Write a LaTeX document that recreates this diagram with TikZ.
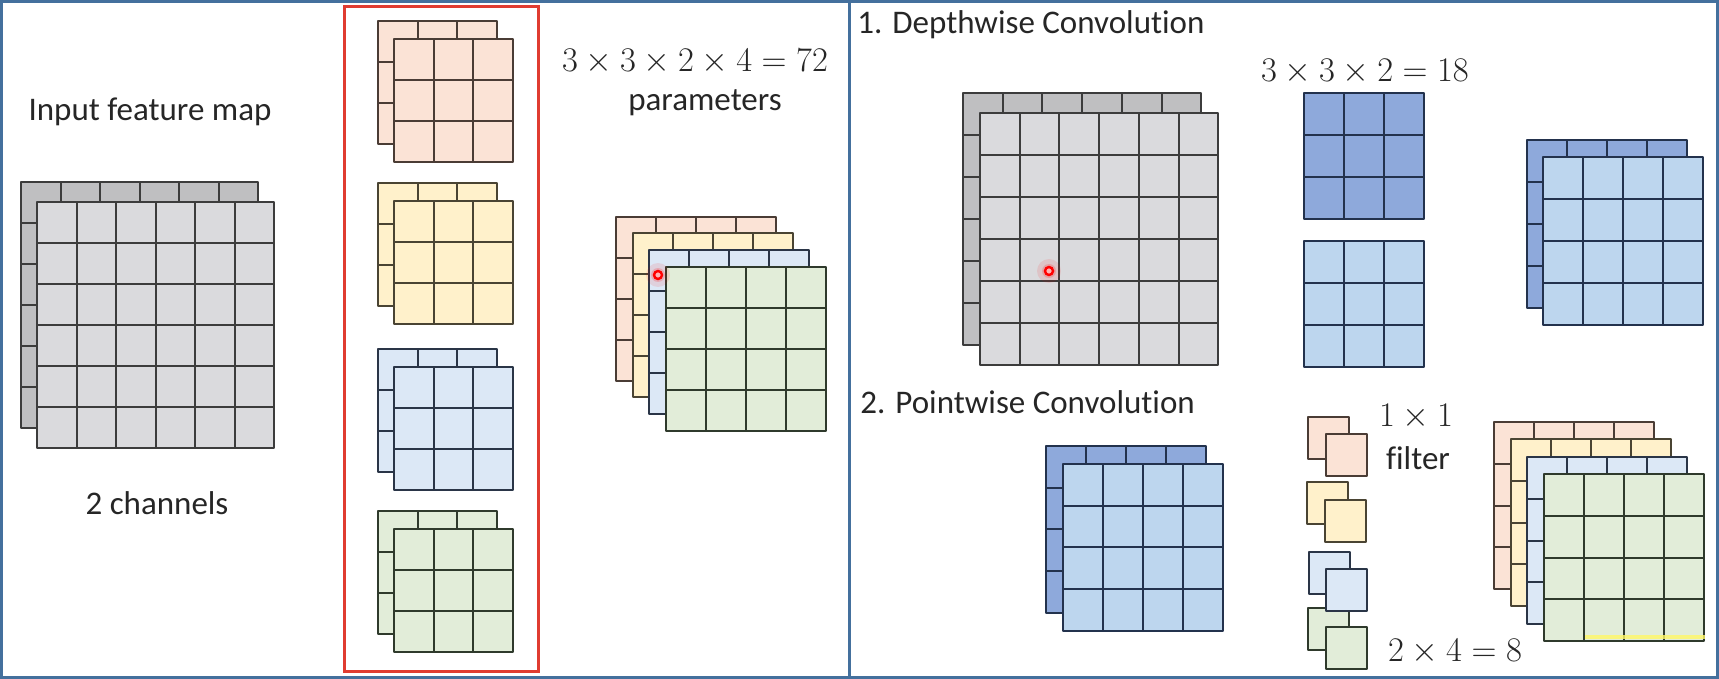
\documentclass[tikz,border=0pt]{standalone}
\usepackage[no-math]{fontspec}
\setmainfont{Carlito}[Ligatures=NoCommon]
\definecolor{cframe}{HTML}{44709D}
\definecolor{cred}{HTML}{E03C31}
\definecolor{ctext}{HTML}{262626}
\definecolor{cgray}{HTML}{DADADD}
\definecolor{cgraydark}{HTML}{BFBFC1}
\definecolor{cgrayline}{HTML}{3C3C3C}
\definecolor{cpink}{HTML}{FBE3D6}
\definecolor{cpinkline}{HTML}{4A3C35}
\definecolor{cyellow}{HTML}{FFF1CB}
\definecolor{cyellowline}{HTML}{4A4433}
\definecolor{cblue}{HTML}{DCE8F6}
\definecolor{cblueline}{HTML}{2A3547}
\definecolor{cgreen}{HTML}{E2EDD9}
\definecolor{cgreenline}{HTML}{2F3A2C}
\definecolor{clblue}{HTML}{BDD6EE}
\definecolor{cdblue}{HTML}{8EA9DB}
\definecolor{cnavy}{HTML}{23324D}
\tikzset{
	every node/.style={font=\fontsize{16.5}{20}\selectfont, text=ctext, inner sep=0pt},
	map/.style={line width=1pt, line join=round},
	grayfront/.style={map, fill=cgray, draw=cgrayline},
	grayrear/.style={map, fill=cgraydark, draw=cgrayline},
	pinkmap/.style={map, fill=cpink, draw=cpinkline},
	yellowmap/.style={map, fill=cyellow, draw=cyellowline},
	bluemap/.style={map, fill=cblue, draw=cblueline},
	greenmap/.style={map, fill=cgreen, draw=cgreenline},
	lightbluemap/.style={map, fill=clblue, draw=cnavy},
	darkbluemap/.style={map, fill=cdblue, draw=cnavy},
	redbox/.style={draw=cred, line width=1.5pt},
	frame/.style={draw=cframe, line width=1.5pt}
}
% [style]{x}{y}{columns}{rows}{cell width}{cell height}
\newcommand{\fmap}[7][]{%
	\begin{scope}[shift={(#2,#3)}]
		\filldraw[#1] (0,0) rectangle ({#4*#6},{#5*#7});
		\foreach \i in {1,...,#4}
			\draw[#1] ({\i*#6},0) -- ({\i*#6},{#5*#7});
		\foreach \j in {1,...,#5}
			\draw[#1] (0,{\j*#7}) -- ({#4*#6},{\j*#7});
	\end{scope}}
\newcommand{\hotspot}[2]{%
	\fill[red, opacity=0.10] (#1,#2) circle (12);
	\fill[red, opacity=0.18] (#1,#2) circle (7);
	\draw[red, line width=1.2pt, fill=red!30] (#1,#2) circle (4);}

\begin{document}
\begin{tikzpicture}[x=0.5pt,y=-0.5pt]
	\useasboundingbox (0,0) rectangle (1719,679);
	\fill[white] (0,0) rectangle (1719,679);

	% standard convolution
	\begin{scope}
		\node (inlabel) at (150,112) {Input feature map};
		\fmap[grayrear]{21}{182}{6}{6}{39.5}{41}
		\fmap[grayfront]{37}{202}{6}{6}{39.5}{41}
		\node (chlabel) at (157,503) {2 channels};

		\draw[redbox] (344,7) rectangle (538,671);
		\fmap[pinkmap]{378}{21}{3}{3}{39.7}{41}
		\fmap[pinkmap]{394}{39}{3}{3}{39.7}{41}
		\fmap[yellowmap]{378}{183}{3}{3}{39.7}{41}
		\fmap[yellowmap]{394}{201}{3}{3}{39.7}{41}
		\fmap[bluemap]{378}{349}{3}{3}{39.7}{41}
		\fmap[bluemap]{394}{367}{3}{3}{39.7}{41}
		\fmap[greenmap]{378}{511}{3}{3}{39.7}{41}
		\fmap[greenmap]{394}{529}{3}{3}{39.7}{41}

		\node (pareq) at (695,62) {$3\times3\times2\times4=72$};
		\node (parlabel) at (705,103) {parameters};
		\fmap[pinkmap]{616}{217}{4}{4}{40}{41}
		\fmap[yellowmap]{633}{233}{4}{4}{40}{41}
		\fmap[bluemap]{649}{250}{4}{4}{40}{41}
		\fmap[greenmap]{666}{267}{4}{4}{40}{41}
		\hotspot{658}{275}
	\end{scope}

	% depthwise step
	\begin{scope}
		\node[anchor=west] (dwtitle) at (857,25) {1. Depthwise Convolution};
		\fmap[grayrear]{963}{93}{6}{6}{39.7}{42}
		\fmap[grayfront]{980}{113}{6}{6}{39.7}{42}
		\hotspot{1049}{271}
		\node (dweq) at (1365,72) {$3\times3\times2=18$};
		\fmap[darkbluemap]{1304}{93}{3}{3}{40}{42}
		\fmap[lightbluemap]{1304}{241}{3}{3}{40}{42}
		\fmap[darkbluemap]{1527}{140}{4}{4}{40}{42}
		\fmap[lightbluemap]{1543}{157}{4}{4}{40}{42}
	\end{scope}

	% pointwise step
	\begin{scope}
		\node[anchor=west] (pwtitle) at (860,402) {2. Pointwise Convolution};
		\fmap[darkbluemap]{1046}{446}{4}{4}{40}{41.7}
		\fmap[lightbluemap]{1063}{464}{4}{4}{40}{41.7}
		\fmap[pinkmap]{1308}{417}{1}{1}{41}{42}
		\fmap[yellowmap]{1307}{482}{1}{1}{41}{42}
		\fmap[bluemap]{1309}{552}{1}{1}{41}{42}
		\fmap[greenmap]{1308}{608}{1}{1}{41}{42}
		\fmap[pinkmap]{1326}{434}{1}{1}{41}{42}
		\fmap[yellowmap]{1325}{500}{1}{1}{41}{42}
		\fmap[bluemap]{1326}{569}{1}{1}{41}{42}
		\fmap[greenmap]{1326}{627}{1}{1}{41}{42}
		\node (pweq) at (1416,417) {$1\times1$};
		\node (filterlabel) at (1418,458) {filter};
		\node (outeq) at (1455,652) {$2\times4=8$};
		\fmap[pinkmap]{1494}{422}{4}{4}{40}{41.8}
		\fmap[yellowmap]{1511}{439}{4}{4}{40}{41.8}
		\fmap[bluemap]{1527}{457}{4}{4}{40}{41.8}
		\fmap[greenmap]{1544}{474}{4}{4}{40}{41.8}
		\draw[yellow!60!white, opacity=0.8, line width=2pt] (1585,637) -- (1705,637);
	\end{scope}

	\draw[frame] (1.5,1.5) rectangle (1717.5,677.5);
	\draw[frame] (849,0) -- (849,679);
\end{tikzpicture}
\end{document}
